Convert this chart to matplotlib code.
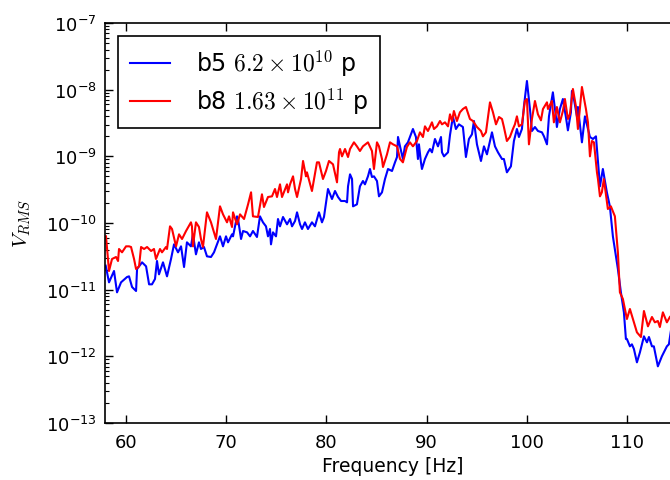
import numpy as np
import matplotlib
matplotlib.use("Agg")
import matplotlib.pyplot as plt
from matplotlib.font_manager import FontProperties

# b5 run, frequency [Hz] and log10(V_RMS)
freq_b5 = [57.97, 58.30, 58.80, 59.10, 59.50, 60.10, 60.30, 60.60, 61.00, 61.10,
           61.60, 62.00, 62.30, 62.59, 62.89, 63.09, 63.29, 63.69, 64.09, 64.49,
           64.79, 65.19, 65.49, 65.79, 66.08, 66.48, 66.68, 66.98, 67.28, 67.48,
           67.78, 68.08, 68.48, 68.78, 69.38, 69.68, 69.98, 70.18, 70.58, 70.68,
           71.08, 71.18, 71.48, 71.68, 72.08, 72.38, 72.67, 73.07, 73.37, 73.67,
           73.97, 74.17, 74.37, 74.47, 74.67, 74.97, 75.17, 75.37, 75.67, 76.07,
           76.37, 76.57, 76.87, 77.07, 77.37, 77.57, 77.86, 78.16, 78.56, 78.86,
           79.26, 79.56, 79.76, 80.16, 80.56, 80.86, 81.16, 81.46, 81.86, 82.06,
           82.16, 82.36, 82.56, 82.66, 83.05, 83.35, 83.65, 83.85, 84.15, 84.35,
           84.55, 84.75, 85.05, 85.25, 85.55, 85.85, 86.15, 86.55, 86.85, 87.05,
           87.15, 87.35, 87.64, 87.84, 88.14, 88.64, 88.94, 89.14, 89.24, 89.44,
           89.54, 89.84, 90.14, 90.34, 90.54, 90.84, 91.14, 91.44, 91.54, 91.74,
           92.14, 92.34, 92.54, 92.64, 92.93, 93.23, 93.63, 93.93, 94.23, 94.53,
           94.73, 95.03, 95.43, 95.73, 96.03, 96.53, 96.83, 97.13, 97.53, 97.72,
           98.02, 98.42, 98.72, 99.02, 99.22, 99.52, 99.72, 100.02, 100.32, 100.52,
           100.82, 101.12, 101.52, 101.72, 102.02, 102.22, 102.61, 102.91, 103.01, 103.31,
           103.61, 103.91, 104.11, 104.41, 104.51, 104.71, 105.01, 105.11, 105.51, 105.81,
           106.31, 106.61, 106.91, 107.11, 107.31, 107.60, 108.00, 108.30, 108.60, 109.10,
           109.40, 109.70, 109.90, 110.00, 110.30, 110.50, 110.70, 111.00, 111.30, 111.70,
           112.00, 112.20, 112.50, 112.69, 113.09, 113.49, 113.69, 113.99, 114.19, 114.39]
logv_b5 = [-10.64, -10.89, -10.72, -11.04, -10.89, -10.81, -10.80, -10.96, -11.02, -10.69,
           -10.59, -10.65, -10.92, -10.92, -10.84, -10.57, -10.77, -10.59, -10.80, -10.54,
           -10.32, -10.44, -10.35, -10.66, -10.29, -10.35, -10.17, -10.47, -10.29, -10.39,
           -10.36, -10.50, -10.51, -10.44, -10.20, -10.35, -10.20, -10.29, -10.17, -10.20,
           -9.90, -9.94, -10.24, -10.12, -10.14, -10.20, -10.12, -10.21, -9.90, -9.99,
           -10.05, -10.20, -10.09, -10.32, -10.14, -10.20, -9.94, -10.05, -9.91, -10.02,
           -9.94, -10.05, -9.97, -9.84, -10.02, -10.09, -9.99, -10.09, -9.99, -10.05,
           -9.84, -9.99, -9.91, -9.49, -9.64, -9.52, -9.61, -9.67, -9.67, -9.69,
           -9.45, -9.27, -9.34, -9.75, -9.72, -9.45, -9.37, -9.42, -9.30, -9.19,
           -9.31, -9.30, -9.37, -9.60, -9.54, -9.34, -9.19, -9.22, -9.09, -9.01,
           -8.71, -8.85, -9.04, -8.85, -8.79, -8.59, -8.71, -9.04, -8.82, -9.09,
           -9.19, -9.04, -8.94, -8.89, -8.94, -8.74, -8.85, -8.71, -8.94, -9.00,
           -8.94, -8.68, -8.49, -8.41, -8.59, -8.52, -8.56, -9.01, -8.74, -8.67,
           -8.47, -8.82, -9.07, -8.85, -8.97, -8.64, -8.85, -8.94, -9.04, -9.04,
           -9.24, -9.15, -8.77, -8.59, -8.71, -8.59, -8.25, -7.87, -8.29, -8.62,
           -8.56, -8.62, -8.64, -8.70, -8.82, -8.40, -8.04, -8.40, -8.56, -8.29,
           -8.14, -8.41, -8.61, -8.34, -8.02, -8.14, -8.40, -8.26, -8.79, -8.40,
           -8.71, -8.74, -8.70, -9.07, -9.45, -9.19, -9.54, -9.75, -10.20, -10.69,
           -11.04, -11.34, -11.74, -11.74, -11.85, -11.82, -11.89, -12.09, -11.94, -11.70,
           -11.79, -11.71, -11.85, -11.85, -12.15, -12.00, -11.94, -11.85, -11.82, -11.62]

# b8 run
freq_b8 = [58.00, 58.30, 58.60, 59.00, 59.20, 59.30, 59.60, 60.00, 60.30, 60.50,
           60.80, 61.00, 61.30, 61.50, 61.80, 62.10, 62.50, 62.79, 62.99, 63.39,
           63.59, 63.99, 64.09, 64.39, 64.59, 64.99, 65.29, 65.59, 65.99, 66.48,
           66.58, 66.68, 66.98, 67.28, 67.48, 67.68, 68.08, 68.48, 68.98, 69.38,
           69.68, 70.08, 70.28, 70.58, 70.68, 71.08, 71.38, 71.78, 72.18, 72.48,
           72.67, 73.17, 73.57, 73.77, 74.17, 74.57, 74.87, 75.07, 75.37, 75.57,
           76.07, 76.17, 76.37, 76.67, 76.87, 77.07, 77.47, 77.67, 77.96, 78.06,
           78.56, 79.06, 79.26, 79.66, 79.96, 80.26, 80.66, 81.06, 81.26, 81.36,
           81.56, 81.86, 82.16, 82.36, 82.75, 83.05, 83.35, 83.65, 84.15, 84.55,
           84.75, 85.05, 85.25, 85.55, 85.65, 86.05, 86.35, 86.65, 87.05, 87.35,
           87.64, 88.04, 88.34, 88.64, 89.04, 89.34, 89.64, 89.84, 90.14, 90.54,
           90.74, 91.04, 91.34, 91.54, 91.84, 92.14, 92.34, 92.54, 92.73, 93.03,
           93.33, 93.63, 93.93, 94.33, 94.63, 95.03, 95.43, 95.63, 95.93, 96.33,
           96.63, 96.93, 97.23, 97.53, 97.72, 98.02, 98.32, 98.62, 98.82, 99.02,
           99.22, 99.52, 99.82, 100.02, 100.22, 100.52, 100.82, 101.12, 101.42, 101.62,
           102.02, 102.12, 102.51, 102.71, 103.01, 103.31, 103.61, 103.81, 104.11, 104.31,
           104.61, 104.91, 105.11, 105.51, 105.91, 106.11, 106.31, 106.51, 106.71, 107.01,
           107.11, 107.31, 107.50, 107.70, 108.10, 108.40, 108.80, 109.10, 109.30, 109.60,
           110.00, 110.30, 110.60, 111.00, 111.40, 111.70, 112.10, 112.50, 112.79, 113.09,
           113.29, 113.59, 113.99, 114.29]
logv_b8 = [-10.20, -10.72, -10.54, -10.51, -10.57, -10.39, -10.44, -10.35, -10.35, -10.36,
           -10.54, -10.69, -10.65, -10.36, -10.39, -10.36, -10.42, -10.39, -10.54, -10.39,
           -10.44, -10.36, -10.39, -10.05, -10.09, -10.35, -10.17, -10.24, -10.12, -9.99,
           -10.05, -10.35, -9.99, -10.06, -10.24, -10.36, -9.84, -9.99, -10.24, -9.75,
           -9.87, -9.99, -9.90, -10.06, -9.84, -10.02, -9.87, -9.94, -9.72, -9.54,
           -9.90, -9.91, -9.57, -9.76, -9.61, -9.60, -9.49, -9.61, -9.42, -9.61,
           -9.42, -9.54, -9.42, -9.30, -9.49, -9.61, -9.34, -9.07, -9.30, -9.24,
           -9.52, -9.09, -9.09, -9.34, -9.22, -9.07, -9.12, -9.39, -8.94, -8.89,
           -9.00, -8.89, -9.01, -8.89, -8.79, -8.85, -8.92, -8.85, -8.79, -8.92,
           -9.19, -8.79, -8.85, -9.04, -9.16, -8.97, -8.79, -8.82, -8.85, -9.04,
           -9.09, -8.86, -8.79, -8.85, -8.77, -8.64, -8.71, -8.55, -8.62, -8.49,
           -8.59, -8.55, -8.47, -8.52, -8.49, -8.55, -8.37, -8.47, -8.32, -8.47,
           -8.34, -8.29, -8.26, -8.44, -8.47, -8.56, -8.62, -8.70, -8.64, -8.19,
           -8.34, -8.52, -8.41, -8.44, -8.56, -8.77, -8.71, -8.59, -8.52, -8.40,
           -8.55, -8.52, -8.17, -8.14, -8.82, -8.44, -8.17, -8.37, -8.46, -8.29,
           -8.19, -8.29, -8.17, -8.49, -8.26, -8.49, -8.32, -8.14, -8.44, -8.37,
           -7.99, -8.25, -8.59, -7.96, -8.29, -8.49, -9.00, -8.77, -8.79, -9.24,
           -9.34, -9.60, -9.54, -9.34, -9.79, -9.75, -9.90, -10.44, -11.04, -11.14,
           -11.44, -11.29, -11.44, -11.64, -11.71, -11.32, -11.55, -11.41, -11.49, -11.47,
           -11.56, -11.34, -11.49, -11.41]

labels = [r'b5 $6.2\times10^{10}$ p', r'b8 $1.63\times10^{11}$ p']

fig = plt.figure(figsize=(6.7, 4.81), dpi=100)
ax = fig.add_axes([105/670, 1 - 424/481, 575/670, 400/481])

ax.plot(freq_b5, 10.0 ** np.array(logv_b5), color='#0000ff', lw=1.5, label=labels[0])
ax.plot(freq_b8, 10.0 ** np.array(logv_b8), color='#ff0000', lw=1.5, label=labels[1])

ax.set_yscale('log')
ax.set_xlim(57.9, 115.3)
ax.set_ylim(1e-13, 1e-7)
ax.set_xticks([60, 70, 80, 90, 100, 110])

ax.tick_params(which='both', direction='in', top=True, right=False, labelsize=13)
ax.tick_params(which='major', length=5.5, width=1)
ax.tick_params(which='minor', length=3, width=0.8)
ax.tick_params(axis='x', pad=7)
ax.tick_params(axis='y', pad=6)
for s in ax.spines.values():
    s.set_linewidth(1.2)

ax.set_xlabel('Frequency [Hz]', fontsize=13.5, labelpad=4)
ax.set_ylabel(r'$V_{RMS}$', fontsize=15, math_fontfamily='cm', labelpad=9)

leg = ax.legend(loc='upper left', bbox_to_anchor=(118/670, 1 - 37/481),
                bbox_transform=fig.transFigure, borderaxespad=0,
                prop=FontProperties(size=17, math_fontfamily='cm'),
                fancybox=False, framealpha=1, edgecolor='black',
                handlelength=1.7, handletextpad=1.1, labelspacing=0.35,
                borderpad=0.5)
leg.get_frame().set_linewidth(1.2)

fig.savefig('out.png', dpi=100)
